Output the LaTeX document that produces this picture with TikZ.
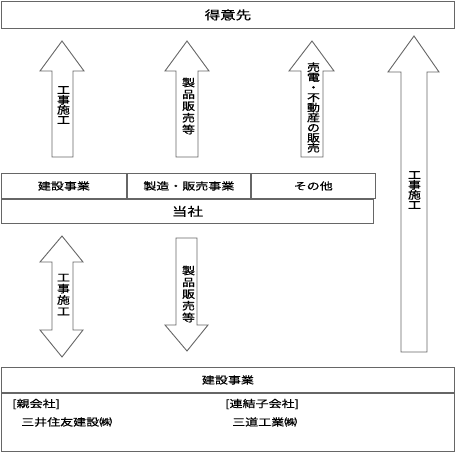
\documentclass[tikz,border=0pt]{standalone}
\usepackage{fontspec}
\setmainfont{Noto Sans CJK JP}[BoldFont=Noto Sans CJK JP, BoldFeatures={FakeBold=0.7}]
\usetikzlibrary{positioning}
\definecolor{linegray}{gray}{0.4}
% squashed text, as in the reference
\newcommand{\squash}[1]{\scalebox{1}[0.77]{#1}}
% vertical stack of characters with a fixed pitch
\newcommand{\tate}[2]{\scalebox{1}[0.8]{\vbox{\baselineskip=#1\lineskiplimit=-100pt\halign{\hfil##\hfil\cr#2\cr}}}}
\tikzset{
    box/.style = {draw=linegray, line width=0.9pt, inner sep=0pt, font=\fontsize{13}{14}\selectfont\bfseries},
    bigbox/.style = {box, font=\fontsize{15.5}{16}\selectfont\bfseries},
    blockarrow/.style = {draw=linegray, line width=0.9pt, fill=white, line join=miter},
    vtext/.style = {inner sep=0pt, font=\fontsize{13}{14}\selectfont\bfseries},
    plain/.style = {inner sep=0pt, font=\fontsize{13}{14}\selectfont\bfseries},
}

\begin{document}
\begin{tikzpicture}[x=1pt, y=-1pt]
    \useasboundingbox (0,0) rectangle (455,451);

    % customers
    \node [bigbox, anchor=north west, minimum width=453, minimum height=27] (tokuisaki) at (1,1) {\squash{得意先}};

    % the company
    \node [box, anchor=north west, minimum width=125, minimum height=25] (kensetsu) at (1,173) {\squash{建設事業}};
    \node [box, minimum width=123, minimum height=25, right = 0pt of kensetsu] (seizo) {\squash{製造・販売事業}};
    \node [box, minimum width=124, minimum height=25, right = 0pt of seizo] (sonota) {\squash{その他}};
    \node [bigbox, anchor=north west, minimum width=372, minimum height=24] (tosha) at (kensetsu.south west) {\squash{当社}};

    % construction group
    \node [box, anchor=north west, minimum width=453, minimum height=25] (jigyo) at (1,367) {\squash{建設事業}};
    \node [box, anchor=north west, minimum width=453, minimum height=58] (group) at (jigyo.south west) {};
    \node [plain, anchor=west] (oyagaisha) at (12,404) {\squash{[親会社]}};
    \node [plain, anchor=west] (kogaisha) at (225,404) {\squash{[連結子会社]}};
    \node [plain, anchor=west] (smcon) at (21,422) {\squash{三井住友建設㈱}};
    \node [plain, anchor=west] (sando) at (232,422) {\squash{三道工業㈱}};

    % arrows up to customers
    \draw [blockarrow] (62,41) -- (84,71) -- (73,71) -- (73,157) -- (52,157) -- (52,71) -- (40,71) -- cycle;
    \node [vtext] (koji1) at (63.5,105) {\tate{12.5pt}{工\cr 事\cr 施\cr 工}};
    \draw [blockarrow] (187,41) -- (209,71) -- (198,71) -- (198,157) -- (176,157) -- (176,71) -- (165,71) -- cycle;
    \node [vtext] (seihin1) at (188.5,106) {\tate{14.7pt}{製\cr 品\cr 販\cr 売\cr 等}};
    \draw [blockarrow] (312,41) -- (334,71) -- (323,71) -- (323,157) -- (301,157) -- (301,71) -- (289,71) -- cycle;
    \node [vtext] (baiden) at (313.5,107.5) {\tate{12.6pt}{売\cr 電\cr ・\cr 不\cr 動\cr 産\cr の\cr 販\cr 売}};
    \draw [blockarrow] (414,36) -- (439,72) -- (427,72) -- (427,352) -- (401,352) -- (401,72) -- (388,72) -- cycle;
    \node [vtext] (koji2) at (414.5,190) {\tate{12.5pt}{工\cr 事\cr 施\cr 工}};

    % arrows between company and group
    \draw [blockarrow] (62,236) -- (83,262) -- (73,262) -- (73,330) -- (83,330) -- (62,357) -- (40,330) -- (52,330) -- (52,262) -- (40,262) -- cycle;
    \node [vtext] (koji3) at (63.5,294.5) {\tate{14.1pt}{工\cr 事\cr 施\cr 工}};
    \draw [blockarrow] (176,238) -- (197,238) -- (197,325) -- (208,325) -- (187,351) -- (165,325) -- (176,325) -- cycle;
    \node [vtext] (seihin2) at (188.5,294) {\tate{14.7pt}{製\cr 品\cr 販\cr 売\cr 等}};
\end{tikzpicture}
\end{document}
